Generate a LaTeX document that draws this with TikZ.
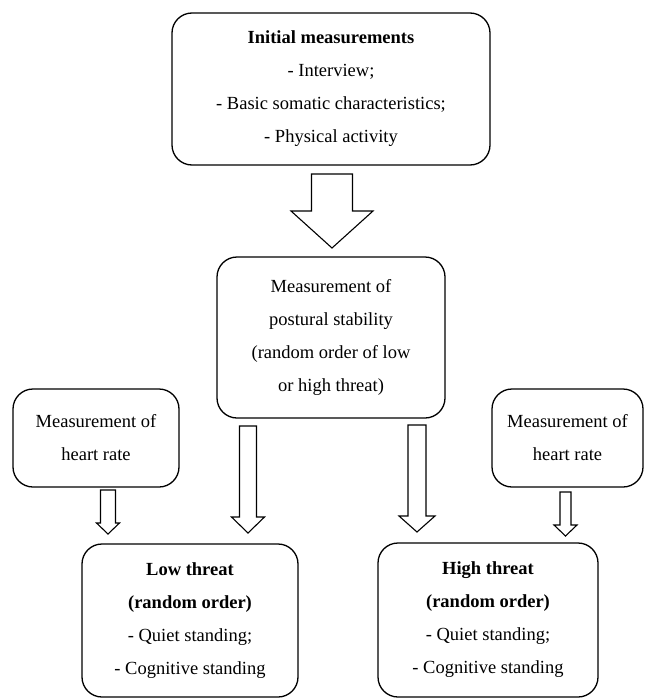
\documentclass[tikz,border=0pt]{standalone}
\usepackage{fontspec}
\setmainfont{Liberation Serif}
\begin{document}
\begin{tikzpicture}[x=1pt,y=-1pt,
  box/.style={draw,line width=1.3pt,rounded corners=20pt,align=center,inner sep=0pt,
    font=\fontsize{18.5}{33}\selectfont},
  barrow/.style={draw,line width=1.1pt,fill=white,line join=miter}]
\useasboundingbox (0,0) rectangle (645,699);
\newcommand\blockarrow[6]{% cx, top, headtop, tip, shafthalf, headhalf
  \draw[barrow] ({#1-#5},#2) -- ({#1+#5},#2) -- ({#1+#5},#3) -- ({#1+#6},#3) -- (#1,#4)
    -- ({#1-#6},#3) -- ({#1-#5},#3) -- cycle;}
% boxes
\node[box,minimum width=318pt,minimum height=152pt] (init) at (331,89)
  {\textbf{Initial measurements}\\- Interview;\\- Basic somatic characteristics;\\- Physical activity};
\node[box,minimum width=228pt,minimum height=161pt] (post) at (331,337.5)
  {Measurement of\\postural stability\\(random order of low\\or high threat)};
\node[box,minimum width=166pt,minimum height=98pt] (hrl) at (96,438)
  {Measurement of\\heart rate};
\node[box,minimum width=151pt,minimum height=98pt] (hrr) at (567.5,438)
  {Measurement of\\heart rate};
\node[box,minimum width=216pt,minimum height=153pt] (low) at (190,620.5)
  {\textbf{Low threat}\\\textbf{(random order)}\\- Quiet standing;\\- Cognitive standing};
\node[box,minimum width=220pt,minimum height=154pt] (high) at (488,620)
  {\textbf{High threat}\\\textbf{(random order)}\\- Quiet standing;\\- Cognitive standing};
% block arrows
\blockarrow{332}{174}{211}{248}{20.5}{41}
\blockarrow{108}{490}{523}{534}{7.5}{11.5}
\blockarrow{248}{426}{517}{533}{8.5}{16.5}
\blockarrow{417}{425}{516}{532}{9}{18}
\blockarrow{565.5}{492}{525}{536}{5.5}{11.5}
\end{tikzpicture}
\end{document}
